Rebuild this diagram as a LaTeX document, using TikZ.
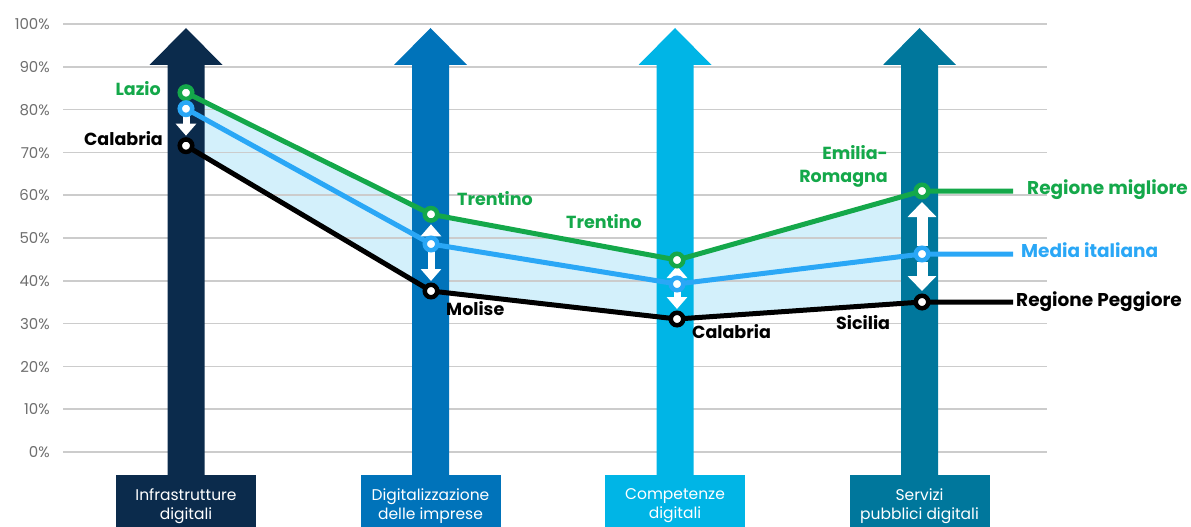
\documentclass[tikz,border=0pt]{standalone}
\usepackage{fontspec}
\setmainfont{Poppins}
\usetikzlibrary{arrows.meta}
\definecolor{cnavy}{HTML}{0B2B4C}
\definecolor{cblue2}{HTML}{0073BA}
\definecolor{ccyan}{HTML}{00B5E6}
\definecolor{cteal}{HTML}{00779C}
\definecolor{cgreen}{HTML}{14A84A}
\definecolor{cline}{HTML}{2AA7F6}
\definecolor{cfill}{HTML}{D3F0FB}
\definecolor{cgrid}{HTML}{CCCCCC}
\definecolor{caxis}{HTML}{6E6E6E}
\tikzset{
  gridline/.style={cgrid, line width=1.6pt},
  axislabel/.style={anchor=mid east, text=caxis, font=\fontsize{15}{17}\selectfont, inner sep=0pt, yshift=-3pt},
  catbox/.style={minimum width=140pt, minimum height=62pt, inner sep=0pt, text=white, align=center, font=\fontsize{15.5}{19}\selectfont},
  series/.style={line width=5pt, line join=round},
  mk/.style={circle, draw=#1, fill=white, line width=4.5pt, minimum size=12.5pt, inner sep=0pt},
  warrow/.style={white, line width=7pt, -{Triangle[width=20pt,length=12pt]}, shorten <=7pt, shorten >=10pt},
  wbig/.style={white, line width=11pt, -{Triangle[width=28pt,length=15pt]}, shorten <=8pt, shorten >=11pt},
  lab/.style={font=\fontsize{17.5}{20}\selectfont\bfseries, inner sep=0pt, yshift=-3.5pt},
  leg/.style={font=\fontsize{18.5}{21}\selectfont\bfseries, inner sep=0pt, anchor=mid west, yshift=-3.5pt},
}
\newcommand{\bigarrow}[4]{%
  \fill[#2] (#1-18.5,475) -- (#1-18.5,65) -- (#1-36.5,65) -- (#1,28) -- (#1+36.5,65) -- (#1+18.5,65) -- (#1+18.5,475) -- cycle;
  \node[catbox, fill=#2] (#3) at (#1,506) {#4};
}
\begin{document}
\begin{tikzpicture}[x=1pt,y=-1pt]
\useasboundingbox (0,0) rectangle (1191,527);
% data coordinates
\coordinate (g1) at (186,92.7);  \coordinate (b1) at (186,108.7); \coordinate (k1) at (186,145.7);
\coordinate (g2) at (431,214.3); \coordinate (b2) at (431,244);   \coordinate (k2) at (431,291);
\coordinate (g3) at (677,260);   \coordinate (b3) at (677,284);   \coordinate (k3) at (677,319);
\coordinate (g4) at (922,191);   \coordinate (b4) at (922,254);   \coordinate (k4) at (922,302);
\coordinate (ge) at (1013,191);  \coordinate (be) at (1013,254);  \coordinate (ke) at (1013,302);
% band
\fill[cfill] (g1) -- (g2) -- (g3) -- (g4) -- (k4) -- (k3) -- (k2) -- (k1) -- cycle;
% grid
\foreach \v in {0,...,10}{
  \pgfmathsetmacro\yy{452-\v*42.8}
  \pgfmathtruncatemacro\pp{\v*10}
  \draw[gridline] (63,\yy) -- (1047,\yy);
  \node[axislabel] (ax\v) at (50,\yy) {\pp\%};
}
% category arrows
\bigarrow{186}{cnavy}{c1}{Infrastrutture\\digitali}
\bigarrow{430.5}{cblue2}{c2}{Digitalizzazione\\delle imprese}
\bigarrow{675}{ccyan}{c3}{Competenze\\digitali}
\bigarrow{919.5}{cteal}{c4}{Servizi\\pubblici digitali}
% series
\draw[series, cgreen] (g1) -- (g2) -- (g3) -- (g4) -- (ge);
\draw[series, cline] (b1) -- (b2) -- (b3) -- (b4) -- (be);
\draw[series, black] (k1) -- (k2) -- (k3) -- (k4) -- (ke);
% white gap arrows
\draw[warrow] (b1) -- (k1);
\draw[warrow] (b2) -- (g2);
\draw[warrow] (b2) -- (k2);
\draw[warrow, shorten >=6pt] (b3) -- (g3);
\draw[warrow] (b3) -- (k3);
\draw[wbig] (b4) -- (g4);
\draw[wbig] (b4) -- (k4);
% markers
\foreach \i in {1,2,3,4}{
  \node[mk=cgreen] (mg\i) at (g\i) {};
  \node[mk=cline] (mb\i) at (b\i) {};
  \node[mk=black] (mk\i) at (k\i) {};
}
% labels
\node[lab, text=cgreen, anchor=mid east] (lazio) at (161,89) {Lazio};
\node[lab, anchor=mid east] (cal1) at (163,139) {Calabria};
\node[lab, text=cgreen, anchor=mid west] (tr2) at (457,199) {Trentino};
\node[lab, anchor=mid west] (mol) at (446,309) {Molise};
\node[lab, text=cgreen, anchor=mid west] (tr3) at (566,222) {Trentino};
\node[lab, anchor=mid west] (cal3) at (692,332) {Calabria};
\node[lab, text=cgreen, anchor=east, align=right, font=\fontsize{17.5}{23}\selectfont\bfseries, yshift=3pt] (emr) at (888,166) {Emilia-\\Romagna};
\node[lab, anchor=mid west] (sic) at (836,323) {Sicilia};
\node[leg, text=cgreen] (lg1) at (1027,188) {Regione migliore};
\node[leg, text=cline] (lg2) at (1021,251) {Media italiana};
\node[leg] (lg3) at (1016,300) {Regione Peggiore};
\end{tikzpicture}
\end{document}
